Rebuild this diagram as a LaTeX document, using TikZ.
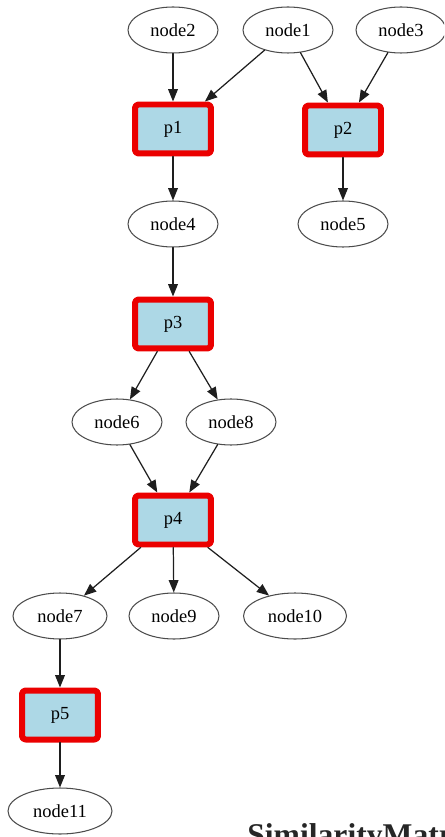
\documentclass[tikz,border=0pt]{standalone}
\usepackage{fontspec}
\setmainfont{Liberation Serif}
\usetikzlibrary{arrows.meta,shapes.geometric}
\definecolor{procfill}{RGB}{173,216,230}
\definecolor{procred}{RGB}{235,0,0}
\definecolor{edgegray}{RGB}{30,30,30}
\begin{document}
\begin{tikzpicture}[x=0.02cm,y=-0.02cm,line join=round,line cap=round,
		>={Triangle[length=7pt,width=5.5pt]},font=\fontsize{10.5}{12}\selectfont,
		data/.style={ellipse,draw=black!70,line width=0.6pt,minimum width=1.8cm,minimum height=0.92cm,inner sep=1pt},
		proc/.style={rectangle,rounded corners=2pt,draw=procred,line width=0.12cm,fill=procfill,minimum width=1.52cm,minimum height=0.98cm},
		link/.style={->,draw=edgegray,line width=0.7pt}]
	\useasboundingbox (0,0) rectangle (444,837);
	\clip (0,0) rectangle (444,837);
	% inputs
	\node[data] (node2) at (173,30) {node2};
	\node[data] (node1) at (288,30) {node1};
	\node[data] (node3) at (401,30) {node3};
	% processes
	\node[proc] (p1) at (173,129) {p1};
	\node[proc] (p2) at (343,130) {p2};
	\node[data] (node4) at (173,224) {node4};
	\node[data] (node5) at (343,224) {node5};
	\node[proc] (p3) at (173,324) {p3};
	\node[data] (node6) at (117,422) {node6};
	\node[data] (node8) at (231,422) {node8};
	\node[proc] (p4) at (173,520) {p4};
	\node[data,minimum width=1.88cm] (node7) at (60,616) {node7};
	\node[data] (node9) at (174,616) {node9};
	\node[data,minimum width=2.06cm] (node10) at (295,616) {node10};
	\node[proc] (p5) at (60,715) {p5};
	\node[data,minimum width=2.08cm] (node11) at (60,811) {node11};
	% edges
	\draw[link] (node2) -- (p1);
	\draw[link] (node1) -- (p1);
	\draw[link] (node1) -- (p2);
	\draw[link] (node3) -- (p2);
	\draw[link] (p1) -- (node4);
	\draw[link] (p2) -- (node5);
	\draw[link] (node4) -- (p3);
	\draw[link] (p3) -- (node6);
	\draw[link] (p3) -- (node8);
	\draw[link] (node6) -- (p4);
	\draw[link] (node8) -- (p4);
	\draw[link] (p4) -- (node7);
	\draw[link] (p4) -- (node9);
	\draw[link] (p4) -- (node10);
	\draw[link] (node7) -- (p5);
	\draw[link] (p5) -- (node11);
	% caption, cut by the frame
	\node[anchor=base west,inner sep=0pt,font=\fontsize{18}{21}\selectfont\bfseries,text=black!85] (caption) at (247,845) {SimilarityMatrix};
\end{tikzpicture}
\end{document}
